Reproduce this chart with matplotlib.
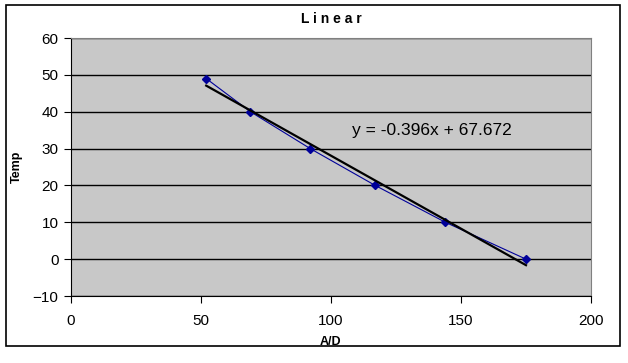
import matplotlib.pyplot as plt
import matplotlib.patches as patches
import numpy as np

plt.rcParams['font.family'] = ['Liberation Sans', 'DejaVu Sans']

# readings
ad = [52, 69, 92, 117, 144, 175]
temp = [49, 40, 30, 20, 10, 0]

# linear fit
slope, intercept = np.polyfit(ad, temp, 1)
fit_x = np.array([min(ad), max(ad)])
fit_y = slope * fit_x + intercept

fig = plt.figure(figsize=(6.28, 3.63), dpi=100)
ax = fig.add_axes([71/628, 67/363, 520/628, 258/363])

# outer chart border
fig.patches.append(patches.Rectangle((6/628, 17/363), 614/628, 341/363,
                                     transform=fig.transFigure, fill=False,
                                     edgecolor='black', linewidth=1.2))

ax.set_facecolor('#c8c8c8')
ax.plot(ad, temp, color='#000099', linewidth=0.8, marker='D', markersize=4,
        zorder=3)
ax.plot(fit_x, fit_y, color='black', linewidth=1.6, zorder=4)

ax.set_xlim(0, 200)
ax.set_ylim(-10, 60)
ax.set_xticks([0, 50, 100, 150, 200])
ax.set_yticks(range(-10, 61, 10))
ax.yaxis.grid(True, color='black', linewidth=1)
ax.set_axisbelow(True)

for s in ['top', 'right']:
    ax.spines[s].set_color('#808080')
for s in ['left', 'bottom']:
    ax.spines[s].set_color('black')
ax.tick_params(direction='out', length=5, labelsize=11, pad=4)
ax.tick_params(axis='x', pad=8)

ax.text(108, 35, f'y = {slope:.3f}x + {intercept:.3f}', fontsize=12.5,
        va='center')

ax.set_title('L i n e a r', fontsize=10, fontweight='bold', pad=11)
ax.set_xlabel('A/D', fontsize=9, fontweight='bold', labelpad=6)
ax.set_ylabel('Temp', fontsize=9, fontweight='bold', labelpad=7)

fig.savefig('out.png', dpi=100)
